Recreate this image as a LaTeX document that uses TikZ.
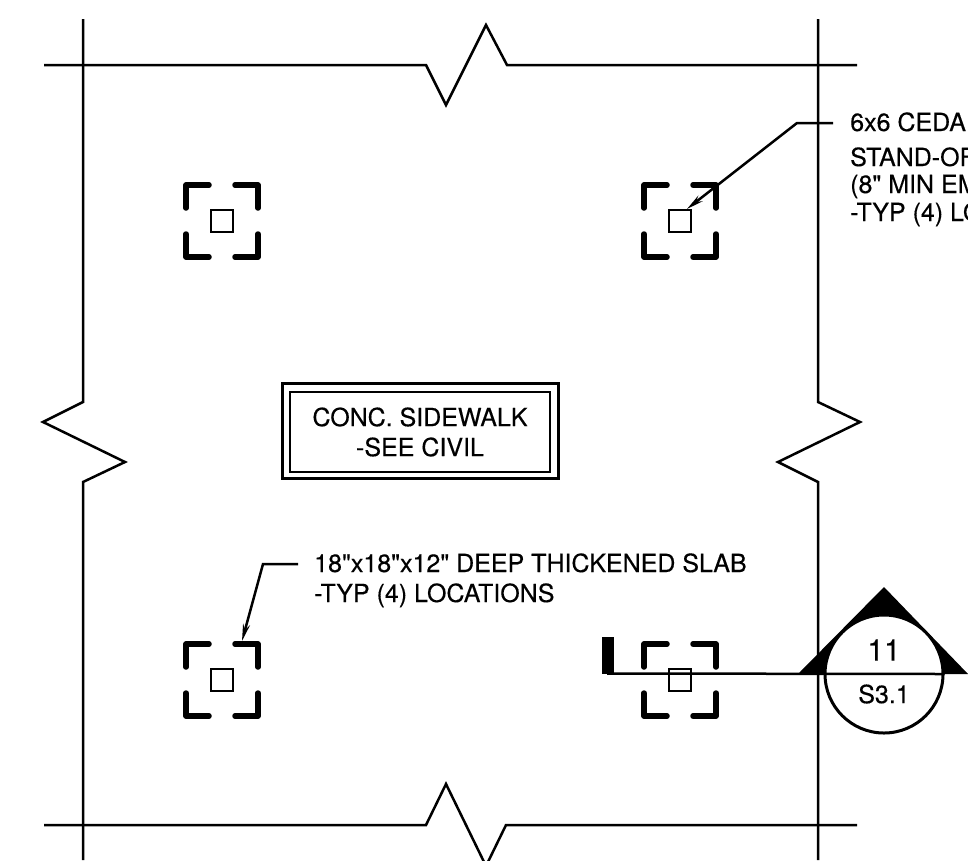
\documentclass[tikz,border=0pt]{standalone}
\usepackage{fontspec}
\setmainfont[Ligatures=TeXOff, FakeBold=0.35]{TeX Gyre Heros}
\usetikzlibrary{arrows.meta}

\begin{document}
\begin{tikzpicture}[x=1pt, y=-1pt]
  \tikzstyle{grid}=[line width=2.5pt, line join=miter]
  \tikzstyle{bracket}=[line width=5.5pt, line cap=round, line join=round]
  \tikzstyle{pad}=[draw, rectangle, line width=2pt, minimum size=22pt, inner sep=0pt]
  \tikzstyle{note}=[anchor=base west, inner sep=0pt, font=\fontsize{25}{28}\selectfont]
  \tikzstyle{leader}=[line width=2.5pt, -{Stealth[length=17pt, width=7pt]}]

  \clip (0, 0) rectangle (968, 860);

  % grid lines with break marks
  \draw[grid] (44, 65) -- (426, 65) -- (446, 105) -- (486, 25) -- (507, 65) -- (857, 65);
  \draw[grid] (44, 825) -- (426, 825) -- (446, 784) -- (486, 866) -- (506, 825) -- (857, 825);
  \draw[grid] (83, 19) -- (83, 402) -- (43, 422) -- (125, 462) -- (83, 482) -- (83, 860);
  \draw[grid] (818, 19) -- (818, 402) -- (860, 422) -- (778, 462) -- (818, 482) -- (818, 860);

  % posts
  \foreach \name/\x/\y in {pad1/222/221, pad2/680/221, pad3/222/680, pad4/680/680} {
    \node[pad] (\name) at (\x, \y) {};
    \draw[bracket] (\x-36, \y-13) -- (\x-36, \y-36) -- (\x-13, \y-36);
    \draw[bracket] (\x+13, \y-36) -- (\x+36, \y-36) -- (\x+36, \y-13);
    \draw[bracket] (\x-36, \y+13) -- (\x-36, \y+36) -- (\x-13, \y+36);
    \draw[bracket] (\x+13, \y+36) -- (\x+36, \y+36) -- (\x+36, \y+13);
  }

  % slab label
  \node[draw, rectangle, line width=2.5pt, minimum width=276pt, minimum height=95pt] (outer) at (420.5, 431) {};
  \node[draw, rectangle, line width=2.5pt, minimum width=260pt, minimum height=80pt, align=center,
        font=\fontsize{25}{30}\selectfont] (sidewalk) at (420, 432) {CONC. SIDEWALK\\-SEE CIVIL};

  % notes
  \node[note] (cedar) at (850, 131) {6x6 CEDA};
  \node[note] (standoff) at (850, 166) {STAND-OF};
  \node[note] (embed) at (850, 193) {(8" MIN EM};
  \node[note] (typ) at (850, 221) {-TYP (4) LO};
  \node[note] (slab) at (314, 572) {18"x18"x12" DEEP THICKENED SLAB};
  \node[note] (slabtyp) at (314, 602) {-TYP (4) LOCATIONS};

  \coordinate (a1) at (833, 123);
  \coordinate (a2) at (797, 123);
  \coordinate (b1) at (298, 564);
  \coordinate (b2) at (263, 564);
  \coordinate (b3) at (242, 641);
  \draw[leader] (a1) -- (a2) -- (pad2.60);
  \draw[leader] (b1) -- (b2) -- (b3);

  % section mark
  \fill (884, 587) -- (968, 674) -- (798, 674) -- cycle;
  \node[draw, circle, fill=white, line width=3pt, minimum size=118pt, inner sep=0pt] (section) at (884, 674) {};
  \node[font=\fontsize{30}{30}\selectfont] (num) at (884, 650) {11};
  \node[font=\fontsize{25}{25}\selectfont] (sheet) at (884, 694) {S3.1};
  \coordinate (cut) at (607, 673.5);
  \fill (602, 637) rectangle (614, 674);
  \draw[line width=2.5pt] (cut) -- (section.east);
\end{tikzpicture}
\end{document}
